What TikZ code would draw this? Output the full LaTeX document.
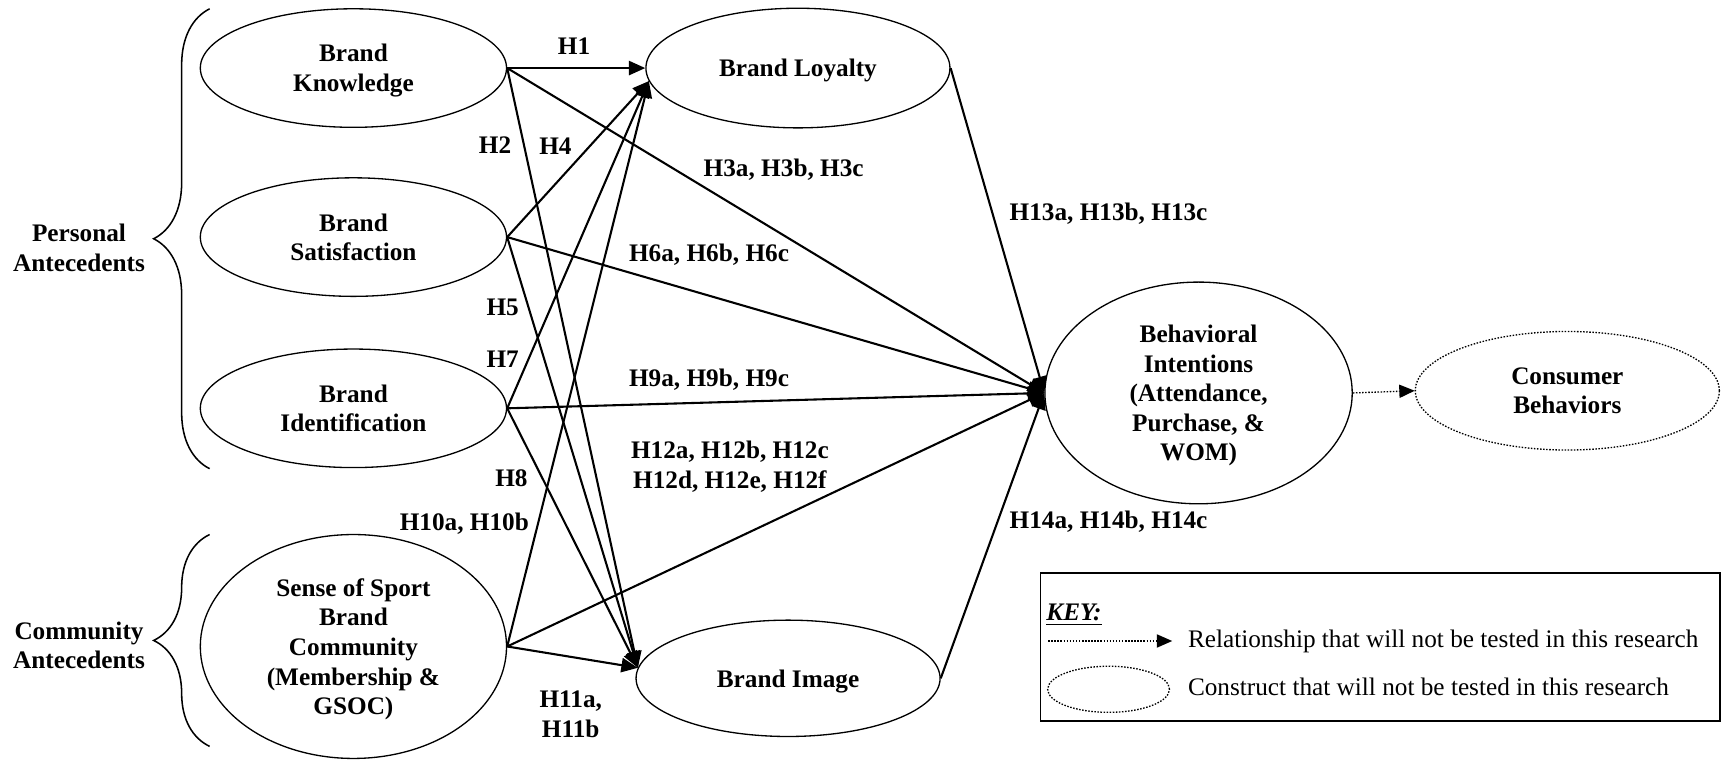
\documentclass[tikz,border=0pt]{standalone}
\usepackage{fontspec}
\setmainfont{Liberation Serif}
\usetikzlibrary{shapes.geometric,arrows.meta,decorations.pathreplacing}
\begin{document}
\begin{tikzpicture}[x=0.5pt,y=-0.5pt,
  every node/.style={font=\fontsize{11.5}{13.5}\selectfont},
  construct/.style={ellipse,draw,line width=0.6pt,inner sep=0pt,align=center,text depth=0pt,
    font=\fontsize{11.5}{13.5}\selectfont\bfseries},
  hyp/.style={font=\fontsize{11.5}{13.5}\selectfont\bfseries,align=center,inner sep=0pt},
  link/.style={line width=0.95pt,-{Triangle[length=7.5pt,width=6.5pt]}},
  untested/.style={line width=0.6pt,dash pattern=on 0.7pt off 0.7pt},
  grouping/.style={decorate,decoration={brace,amplitude=25.5pt},line width=0.7pt},
  plain/.style={font=\fontsize{11.5}{13.5}\selectfont,inner sep=0pt,anchor=west}
]
\useasboundingbox (0,0) rectangle (1568,692);

% antecedent groups
\draw[grouping] (191,427) -- (191,8);
\draw[grouping] (191,680) -- (191,487);
\node[hyp] (pa) at (72,226) {Personal\\Antecedents};
\node[hyp] (ca) at (72,588) {Community\\Antecedents};

% constructs
\node[construct,minimum width=139.5pt,minimum height=54pt] (bk)  at (322,62)  {Brand\\Knowledge};
\node[construct,minimum width=139.5pt,minimum height=54pt] (bs)  at (322,216) {Brand\\Satisfaction};
\node[construct,minimum width=139.5pt,minimum height=54pt] (bid) at (322,372) {Brand\\Identification};
\node[construct,minimum width=139.5pt,minimum height=102pt] (sos) at (322,589)
  {Sense of Sport\\Brand\\Community\\(Membership \&\\GSOC)};
\node[construct,minimum width=138.5pt,minimum height=54.5pt] (bl) at (727,62) {Brand Loyalty};
\node[construct,minimum width=138.5pt,minimum height=53pt] (bim) at (718,618) {Brand Image};
\node[construct,minimum width=140pt,minimum height=101pt] (bi) at (1092,358)
  {Behavioral\\Intentions\\(Attendance,\\Purchase, \&\\WOM)};
\node[construct,untested,minimum width=138.5pt,minimum height=54pt] (cb) at (1428,356)
  {Consumer\\Behaviors};

% hypothesised paths
\draw[link] (bk.east)  -- (bl.west);
\draw[link] (bk.east)  -- (bim.176);
\draw[link] (bk.east)  -- (bi.west);
\draw[link] (bs.east)  -- (bl.185);
\draw[link] (bs.east)  -- (bim.176);
\draw[link] (bs.east)  -- (bi.west);
\draw[link] (bid.east) -- (bl.185);
\draw[link] (bid.east) -- (bim.176);
\draw[link] (bid.east) -- (bi.west);
\draw[link] (sos.east) -- (bl.185);
\draw[link] (sos.east) -- (bim.176);
\draw[link] (sos.east) -- (bi.west);
\draw[link] (bl.east)  -- (bi.west);
\draw[link] (bim.east) -- (bi.west);
\draw[untested,-{Triangle[length=7pt,width=6pt]}] (bi.east) -- (cb.west);

% hypothesis labels
\node[hyp] (h1)  at (523,42)  {H1};
\node[hyp] (h2)  at (451,132) {H2};
\node[hyp] (h4)  at (506,133) {H4};
\node[hyp] (h3)  at (714,155) {H3a, H3b, H3c};
\node[hyp] (h13) at (1010,195) {H13a, H13b, H13c};
\node[hyp] (h6)  at (646,232) {H6a, H6b, H6c};
\node[hyp] (h5)  at (458,280) {H5};
\node[hyp] (h7)  at (458,327) {H7};
\node[hyp] (h9)  at (646,346) {H9a, H9b, H9c};
\node[hyp] (h12) at (665,425) {H12a, H12b, H12c\\H12d, H12e, H12f};
\node[hyp] (h8)  at (466,436) {H8};
\node[hyp] (h10) at (423,477) {H10a, H10b};
\node[hyp] (h14) at (1010,475) {H14a, H14b, H14c};
\node[hyp] (h11) at (520,651) {H11a,\\H11b};

% key
\node[draw,line width=0.6pt,minimum width=309.5pt,minimum height=67.5pt,inner sep=0pt] (key) at (1257.5,589.5) {};
\node[plain] (keyt) at (953,560) {\textbf{\textit{\underline{KEY:}}}};
\coordinate (k1) at (955,584);
\coordinate (k2) at (1068,584);
\draw[untested,-{Triangle[length=7pt,width=6pt]}] (k1) -- (k2);
\node[plain] (kt1) at (1082,584) {Relationship that will not be tested in this research};
\node[ellipse,draw,untested,minimum width=55.5pt,minimum height=21pt,inner sep=0pt] (ke) at (1010,628) {};
\node[plain] (kt2) at (1082,626) {Construct that will not be tested in this research};
\end{tikzpicture}
\end{document}
